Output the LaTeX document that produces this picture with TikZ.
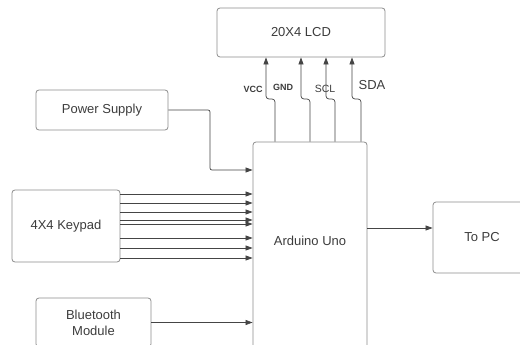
\documentclass[tikz,border=0pt]{standalone}
\usepackage{fontspec}
\setmainfont{Liberation Sans}
\usetikzlibrary{arrows.meta}
\definecolor{boxline}{HTML}{8C8C8C}
\definecolor{wirecol}{HTML}{454545}
\definecolor{txtcol}{HTML}{3C3C3C}
\begin{document}
\begin{tikzpicture}[x=1pt, y=-1pt, >={Triangle[length=7pt,width=5pt]},
	block/.style={draw=boxline, rounded corners=3pt, line width=0.8pt, text=txtcol, inner sep=0pt,
		align=center, font=\fontsize{13}{16}\selectfont},
	wire/.style={draw=wirecol, line width=0.7pt, ->},
	pinlabel/.style={text=txtcol, inner sep=0pt}]
	\useasboundingbox (0,0) rectangle (520,345);
	\clip (0,0) rectangle (520,345);

	% --- blocks ---
	\node[block, minimum width=168pt, minimum height=49pt] (lcd) at (301,32.5) {20X4 LCD};
	\node[block, minimum width=132pt, minimum height=40pt] (psu) at (102,110) {Power Supply};
	\node[block, minimum width=108pt, minimum height=72pt] (kp) at (66,226) {4X4 Keypad};
	\node[block, minimum width=115pt, minimum height=49pt] (bt) at (93.5,322.5) {Bluetooth\\Module};
	\node[block, minimum width=114pt, minimum height=210pt] (uno) at (310,247) {};
	\node[pinlabel, font=\fontsize{13}{15}\selectfont] (unotxt) at (310,241) {Arduino Uno};
	\node[block, minimum width=98pt, minimum height=71pt] (pc) at (482,237.5) {To PC};

	% --- power supply ---
	\coordinate (pbend) at (210,170);
	\draw[wire, rounded corners=2pt] (psu.east) -| (pbend) -- (uno.west |- pbend);

	% --- keypad rows and columns ---
	\foreach \yy [count=\i] in {194,203,212,220,224,238,248,258} {
		\coordinate (k\i) at (0,\yy);
		\draw[wire] (kp.east |- k\i) -- (uno.west |- k\i);
	}

	% --- bluetooth ---
	\draw[wire] (bt.east) -- (uno.west |- bt.east);

	% --- to pc ---
	\coordinate (usb) at (0,228);
	\draw[wire] (uno.east |- usb) -- (pc.west |- usb);

	% --- I2C lines to the lcd ---
	\foreach \xa/\xb/\i in {266/275/1, 301/310/2, 326/335/3, 352/361/4} {
		\coordinate (upper\i) at (\xa,99);
		\coordinate (lower\i) at (\xb,99);
		\draw[wire, rounded corners=3pt] (uno.north -| lower\i) -- (lower\i) -- (upper\i) -- (lcd.south -| upper\i);
	}
	\node[pinlabel, font=\fontsize{9}{10}\selectfont\bfseries] (vcc) at (253,89) {VCC};
	\node[pinlabel, font=\fontsize{9}{10}\selectfont\bfseries] (gnd) at (283,87) {GND};
	\node[pinlabel, font=\fontsize{10.5}{12}\selectfont] (scl) at (325,89) {SCL};
	\node[pinlabel, font=\fontsize{13}{15}\selectfont] (sda) at (372,85) {SDA};
\end{tikzpicture}
\end{document}
